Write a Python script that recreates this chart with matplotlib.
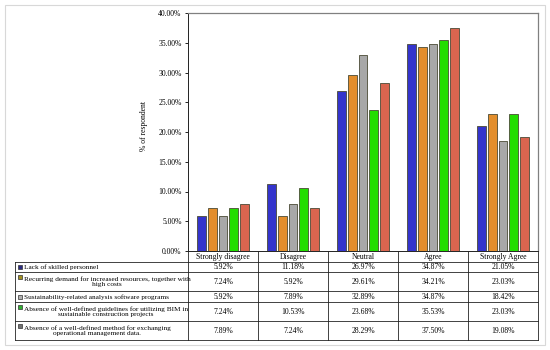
import matplotlib
matplotlib.use("Agg")
import matplotlib.pyplot as plt
from matplotlib.patches import Rectangle
from matplotlib.lines import Line2D
from matplotlib.ticker import FuncFormatter, MultipleLocator
import numpy as np

plt.rcParams['font.family'] = ['Liberation Serif', 'DejaVu Serif']

categories = ["Strongly disagree", "Disagree", "Neutral", "Agree", "Strongly Agree"]
series_names = [
    "Lack of skilled personnel",
    "Recurring demand for increased resources, together with\nhigh costs",
    "Sustainability-related analysis software programs",
    "Absence of well-defined guidelines for utilizing BIM in\nsustainable construction projects",
    "Absence of a well-defined method for exchanging\noperational management data.",
]
lack_skilled = [5.92, 11.18, 26.97, 34.87, 21.05]
recurring_demand = [7.24, 5.92, 29.61, 34.21, 23.03]
software_programs = [5.92, 7.89, 32.89, 34.87, 18.42]
bim_guidelines = [7.24, 10.53, 23.68, 35.53, 23.03]
exchange_method = [7.89, 7.24, 28.29, 37.50, 19.08]
series_values = [lack_skilled, recurring_demand, software_programs, bim_guidelines, exchange_method]
colors = ['#3434CC', '#E38E2C', '#A8A8A8', '#22DD00', '#D9654F']
marker_colors = ['#2A2A80', '#A09020', '#B0B0B0', '#30B030', '#707070']

W, H = 550, 350
fig = plt.figure(figsize=(5.5, 3.5), dpi=100)
px0, px1, py0, py1 = 188, 538, 13, 251
ax = fig.add_axes([px0 / W, 1 - py1 / H, (px1 - px0) / W, (py1 - py0) / H])

# outer frame
fig.add_artist(Rectangle((5 / W, 5 / H), 540 / W, 340 / H, transform=fig.transFigure,
                         fill=False, edgecolor='#D8D8D8', linewidth=0.8))

x = np.arange(len(categories))
pitch = 0.152
width = 0.126
for i, (vals, c) in enumerate(zip(series_values, colors)):
    ax.bar(x + (i - 2) * pitch, vals, width=width, color=c, edgecolor='#4A4A35', linewidth=0.6, zorder=3)

ax.set_xlim(-0.5, 4.5)
ax.set_ylim(0, 40)
ax.yaxis.set_major_locator(MultipleLocator(5))
ax.yaxis.set_major_formatter(FuncFormatter(lambda v, p: f"{v:.2f}%"))
ax.tick_params(axis='y', labelsize=5.5, length=2.5, width=0.6, pad=2, direction='out')
ax.set_xticks([])
ax.set_ylabel("% of respondent", fontsize=5.5)
ax.yaxis.set_label_coords((148 - px0) / (px1 - px0), (py1 - 126) / (py1 - py0))
for s in ['left', 'bottom']:
    ax.spines[s].set_color('#222222')
    ax.spines[s].set_linewidth(0.7)
for s in ['top', 'right']:
    ax.spines[s].set_color('#808080')
    ax.spines[s].set_linewidth(0.9)

# table helpers (pixel -> data x / axes y)
def dx(p):
    return (p - px0) / 70.0 - 0.5

def ay(p):
    return (py1 - p) / (py1 - py0)

tr = ax.get_xaxis_transform()
lw = 0.6
lc = '#222222'
row_bounds = [262, 272, 291, 302, 321, 340]
xl = dx(15)

def hline(x0, x1, y):
    ax.add_line(Line2D([x0, x1], [ay(y), ay(y)], transform=tr, color=lc, lw=lw, clip_on=False))

def vline(xv, y0, y1):
    ax.add_line(Line2D([xv, xv], [ay(y0), ay(y1)], transform=tr, color=lc, lw=lw, clip_on=False))

for yb in row_bounds:
    hline(xl, 4.5, yb)
vline(xl, 262, 340)
for k in range(6):
    vline(k - 0.5, 251, 340)

# header
for k, cat in enumerate(categories):
    ax.text(k, ay(256.8), cat, transform=tr, ha='center', va='center', fontsize=5.5, clip_on=False)

# rows
for r in range(5):
    ytop, ybot = row_bounds[r], row_bounds[r + 1]
    yc = (ytop + ybot) / 2
    nlines = series_names[r].count('\n') + 1
    first_line_y = yc - (nlines - 1) * 4.5
    ax.add_patch(Rectangle((dx(17.5), ay(first_line_y + 2.0)), 4.2 / 70, 4.0 / (py1 - py0),
                           transform=tr, facecolor=marker_colors[r], edgecolor='#333333',
                           linewidth=0.5, clip_on=False))
    ax.text(dx(23.5), ay(yc + 0.3), series_names[r], transform=tr, ha='left', va='center',
            multialignment='center', fontsize=5.2, linespacing=1.1, clip_on=False)
    for k in range(5):
        ax.text(k, ay(yc + 0.3), f"{series_values[r][k]:.2f}%", transform=tr, ha='center',
                va='center', fontsize=5.5, clip_on=False)

fig.savefig("out.png", dpi=100)
